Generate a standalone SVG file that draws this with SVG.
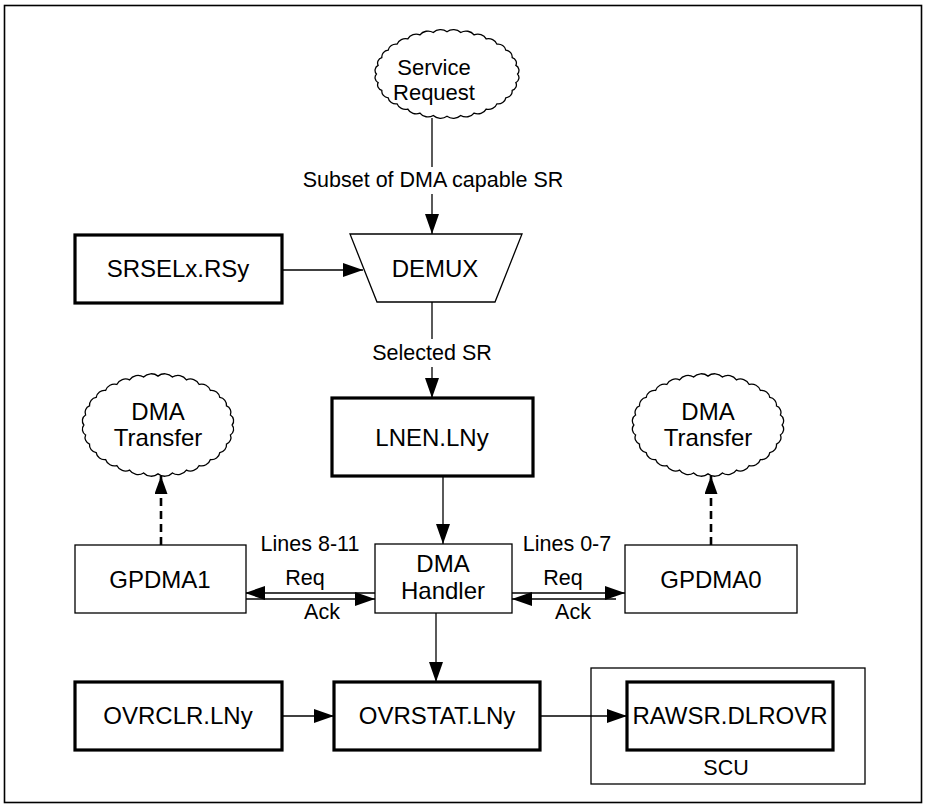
<svg xmlns="http://www.w3.org/2000/svg" width="927" height="807" viewBox="0 0 927 807">
<style>
text{font-family:"Liberation Sans",Arial,sans-serif;fill:#000;text-anchor:middle}
.t{font-size:24px}
.l{font-size:21.5px}
.s{font-size:22px}
.thick{fill:#fff;stroke:#000;stroke-width:3.2}
.thin{fill:#fff;stroke:#000;stroke-width:1.3}
.cl{fill:#fff;stroke:#000;stroke-width:1.3}
.c{fill:none;stroke:#000;stroke-width:1.3}
.d{fill:none;stroke:#000;stroke-width:2.6;stroke-dasharray:8 5}
</style>
<defs>
<marker id="arr" markerUnits="userSpaceOnUse" markerWidth="20" markerHeight="14" refX="20" refY="7" orient="auto">
<path d="M0,0 L20,7 L0,14 Z" fill="#000"/>
</marker>
<marker id="arrS" markerUnits="userSpaceOnUse" markerWidth="18" markerHeight="13" refX="18" refY="6.5" orient="auto">
<path d="M0,0 L18,6.5 L0,13 Z" fill="#000"/>
</marker>
<path id="cloud" vector-effect="non-scaling-stroke" d="M72,0 A6.5,6.5 0 0 1 70.3,9.6 A6.5,6.5 0 0 1 66.5,18.3 A7.5,7.5 0 0 1 60,26.5 A8,8 0 0 1 50.9,33.2 A9,9 0 0 1 40,39 A9.5,9.5 0 0 1 27.6,43.4 A10,10 0 0 1 14,46.1 A10.5,10.5 0 0 1 0,47 A10.5,10.5 0 0 1 -14,46.1 A10,10 0 0 1 -27.6,43.4 A9.5,9.5 0 0 1 -40,39 A9,9 0 0 1 -50.9,33.2 A8,8 0 0 1 -60,26.5 A7.5,7.5 0 0 1 -66.5,18.3 A6.5,6.5 0 0 1 -70.3,9.6 A6.5,6.5 0 0 1 -72,0 A6.5,6.5 0 0 1 -70.3,-9.6 A6.5,6.5 0 0 1 -66.5,-18.3 A7.5,7.5 0 0 1 -60,-26.5 A8,8 0 0 1 -50.9,-33.2 A9,9 0 0 1 -40,-39 A9.5,9.5 0 0 1 -27.6,-43.4 A10,10 0 0 1 -14,-46.1 A10.5,10.5 0 0 1 0,-47 A10.5,10.5 0 0 1 14,-46.1 A10,10 0 0 1 27.6,-43.4 A9.5,9.5 0 0 1 40,-39 A9,9 0 0 1 50.9,-33.2 A8,8 0 0 1 60,-26.5 A7.5,7.5 0 0 1 66.5,-18.3 A6.5,6.5 0 0 1 70.3,-9.6 A6.5,6.5 0 0 1 72,0 Z"/>
</defs>
<rect x="4.5" y="5.5" width="917" height="797" fill="#fff" stroke="#000" stroke-width="1.6"/>

<g id="scu">
<rect class="thin" x="591" y="668" width="274" height="116"/>
<text class="l" x="726" y="775">SCU</text>
</g>

<g id="connectors">
<line class="c" x1="432" y1="118" x2="432" y2="167"/>
<text class="l" x="433" y="187">Subset of DMA capable SR</text>
<line class="c" x1="432" y1="194" x2="432" y2="234" marker-end="url(#arr)"/>
<line class="c" x1="282" y1="270" x2="363" y2="270" marker-end="url(#arr)"/>
<line class="c" x1="432" y1="302" x2="432" y2="339"/>
<text class="l" x="432" y="360">Selected SR</text>
<line class="c" x1="432" y1="367" x2="432" y2="398" marker-end="url(#arr)"/>
<line class="c" x1="443" y1="476" x2="443" y2="544" marker-end="url(#arr)"/>
<line class="d" x1="161" y1="545" x2="161" y2="476" marker-end="url(#arrS)"/>
<line class="d" x1="711" y1="545" x2="711" y2="476" marker-end="url(#arrS)"/>
<text class="l" x="310" y="551">Lines 8-11</text>
<text class="l" x="305" y="585">Req</text>
<text class="l" x="322" y="619">Ack</text>
<line class="c" x1="375" y1="593" x2="245" y2="593" marker-end="url(#arr)"/>
<line class="c" x1="243" y1="599" x2="375" y2="599" marker-end="url(#arr)"/>
<text class="l" x="567" y="551">Lines 0-7</text>
<text class="l" x="563" y="585">Req</text>
<text class="l" x="573" y="619">Ack</text>
<line class="c" x1="512" y1="593" x2="625" y2="593" marker-end="url(#arr)"/>
<line class="c" x1="616" y1="599" x2="512" y2="599" marker-end="url(#arr)"/>
<line class="c" x1="436" y1="613" x2="436" y2="682" marker-end="url(#arr)"/>
<line class="c" x1="282" y1="716" x2="334" y2="716" marker-end="url(#arr)"/>
<line class="c" x1="540" y1="716" x2="627" y2="716" marker-end="url(#arr)"/>
</g>

<g id="service-request">
<use href="#cloud" class="cl" transform="translate(447,74) scale(0.98,0.9)"/>
<text class="s" x="434" y="75">Service</text>
<text class="s" x="434" y="100">Request</text>
</g>

<g id="srsel">
<rect class="thick" x="75" y="235" width="207" height="68"/>
<text class="t" x="178" y="277">SRSELx.RSy</text>
</g>

<g id="demux">
<polygon class="thin" points="350,234 522,234 495,302 377,302"/>
<text class="t" x="435" y="277">DEMUX</text>
</g>

<g id="lnen">
<rect class="thick" x="332" y="398" width="201" height="78"/>
<text class="t" x="432" y="446">LNEN.LNy</text>
</g>

<g id="dma-transfer-1">
<use href="#cloud" class="cl" transform="translate(158,425) scale(1.03,1.04)"/>
<text class="t" x="158" y="420">DMA</text>
<text class="t" x="158" y="446">Transfer</text>
</g>

<g id="dma-transfer-0">
<use href="#cloud" class="cl" transform="translate(708,425) scale(1.03,1.04)"/>
<text class="t" x="708" y="420">DMA</text>
<text class="t" x="708" y="446">Transfer</text>
</g>

<g id="gpdma1">
<rect class="thin" x="75" y="545" width="171" height="68"/>
<text class="t" x="160" y="588">GPDMA1</text>
</g>

<g id="dma-handler">
<rect class="thin" x="375" y="544" width="137" height="69"/>
<text class="t" x="443" y="572">DMA</text>
<text class="t" x="443" y="599">Handler</text>
</g>

<g id="gpdma0">
<rect class="thin" x="625" y="545" width="172" height="68"/>
<text class="t" x="711" y="588">GPDMA0</text>
</g>

<g id="ovrclr">
<rect class="thick" x="75" y="682" width="207" height="68"/>
<text class="t" x="178" y="724">OVRCLR.LNy</text>
</g>

<g id="ovrstat">
<rect class="thick" x="334" y="682" width="206" height="68"/>
<text class="t" x="437" y="724">OVRSTAT.LNy</text>
</g>

<g id="rawsr">
<rect class="thick" x="627" y="682" width="206" height="68"/>
<text class="t" x="730" y="724">RAWSR.DLROVR</text>
</g>
</svg>
